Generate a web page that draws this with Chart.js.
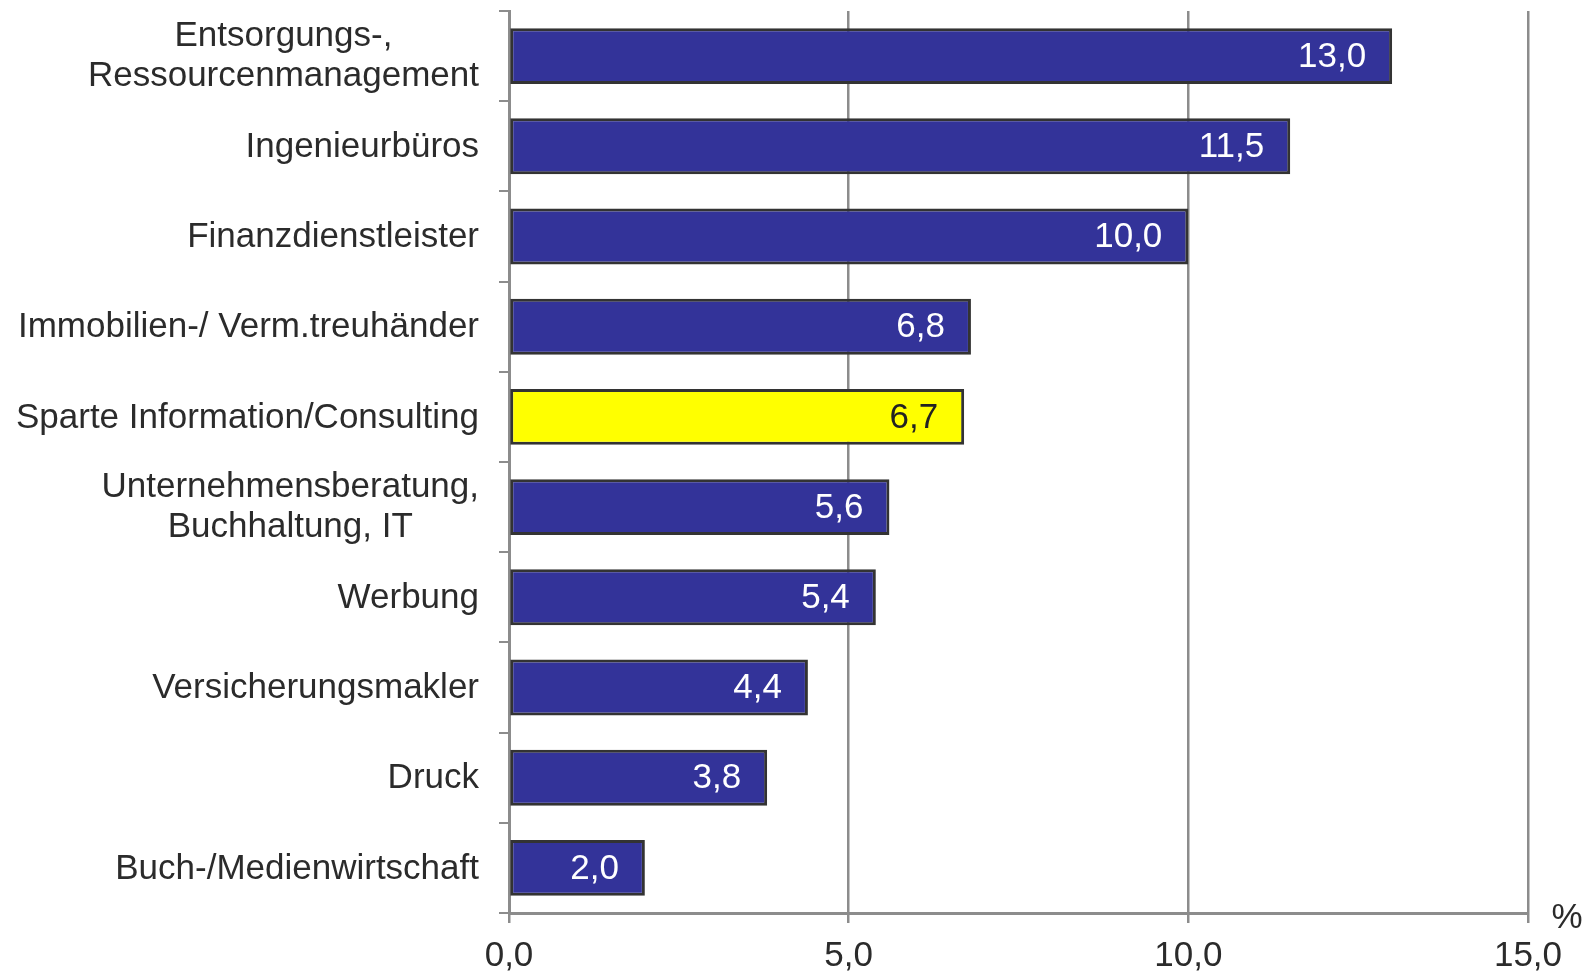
<!DOCTYPE html>
<html>
<head>
<meta charset="utf-8">
<script src="https://cdn.jsdelivr.net/npm/chart.js@4.4.1/dist/chart.umd.min.js"></script>
<style>
  html, body { margin: 0; padding: 0; background: #fff; }
  #wrap { width: 1592px; height: 976px; position: relative; }
</style>
</head>
<body>
<div id="wrap"><canvas id="chart"></canvas></div>
<script>
// --- data ---
const categories = [
  ['Entsorgungs-,', 'Ressourcenmanagement'],
  'Ingenieurbüros',
  'Finanzdienstleister',
  'Immobilien-/ Verm.treuhänder',
  'Sparte Information/Consulting',
  ['Unternehmensberatung,', 'Buchhaltung, IT'],
  'Werbung',
  'Versicherungsmakler',
  'Druck',
  'Buch-/Medienwirtschaft'
];
const values = [13.0, 11.5, 10.0, 6.8, 6.7, 5.6, 5.4, 4.4, 3.8, 2.0];
const highlight = 'Sparte Information/Consulting';
const xTicks = [0, 5, 10, 15];
const unitLabel = '%';

const FONT = '"Liberation Sans", Arial, sans-serif';
const BLUE = '#333399';
const YELLOW = '#ffff00';
const AXIS = '#8c8c8c';
const TEXT = '#2b2b2b';

const fmt = v => v.toFixed(1).replace('.', ',');

// category labels: each right aligned, lines of a multi-line label centred on each other
const catLabels = {
  id: 'catLabels',
  afterDraw(chart) {
    const y = chart.scales.y;
    const ctx = chart.ctx;
    const right = 479;
    ctx.save();
    ctx.font = '35px ' + FONT;
    ctx.fillStyle = TEXT;
    ctx.textBaseline = 'middle';
    categories.forEach((lab, i) => {
      const c = y.getPixelForTick(i);
      if (Array.isArray(lab)) {
        const w = Math.max(...lab.map(s => ctx.measureText(s).width));
        ctx.textAlign = 'center';
        lab.forEach((s, j) => ctx.fillText(s, right - w / 2, c - 20 + j * 40));
      } else {
        ctx.textAlign = 'right';
        ctx.fillText(lab, right, c + 1);
      }
    });
    ctx.restore();
  }
};

// value labels inside bar ends
const valueLabels = {
  id: 'valueLabels',
  afterDatasetsDraw(chart) {
    const ctx = chart.ctx;
    const meta = chart.getDatasetMeta(0);
    ctx.save();
    ctx.font = '35px ' + FONT;
    ctx.textAlign = 'right';
    ctx.textBaseline = 'middle';
    meta.data.forEach((bar, i) => {
      ctx.fillStyle = categories[i] === highlight ? '#222' : '#fff';
      ctx.fillText(fmt(values[i]), bar.x - 26, bar.y + 1);
    });
    ctx.restore();
  }
};

// unit at the end of x axis
const unitPlugin = {
  id: 'unitPlugin',
  afterDraw(chart) {
    const x = chart.scales.x;
    const ctx = chart.ctx;
    ctx.save();
    ctx.font = '35px ' + FONT;
    ctx.fillStyle = TEXT;
    ctx.textAlign = 'center';
    ctx.textBaseline = 'middle';
    ctx.fillText(unitLabel, x.right + 39, x.top + 5);
    ctx.restore();
  }
};

const ctx = document.getElementById('chart').getContext('2d');
new Chart(ctx, {
  type: 'bar',
  data: {
    labels: categories,
    datasets: [{
      data: values,
      backgroundColor: categories.map(c => c === highlight ? YELLOW : BLUE),
      borderColor: '#333333',
      borderWidth: 3,
      borderSkipped: false,
      barPercentage: 0.62,
      categoryPercentage: 1.0
    }]
  },
  options: {
    indexAxis: 'y',
    responsive: true,
    maintainAspectRatio: false,
    animation: false,
    layout: { padding: { top: 11, right: 64, bottom: 0, left: 0 } },
    plugins: { legend: { display: false }, tooltip: { enabled: false } },
    scales: {
      y: {
        ticks: { display: false },
        grid: { drawOnChartArea: false, color: AXIS, lineWidth: 2, tickLength: 10, offset: true },
        border: { color: AXIS, width: 3 },
        afterFit: s => { s.width = 509; }
      },
      x: {
        min: 0, max: 15,
        afterBuildTicks: s => { s.ticks = xTicks.map(v => ({ value: v })); },
        ticks: {
          color: TEXT, font: { family: FONT, size: 35 }, padding: 12,
          callback: v => fmt(v), maxRotation: 0
        },
        grid: { color: AXIS, lineWidth: 2.5, tickLength: 10 },
        border: { color: AXIS, width: 3 },
        afterFit: s => { s.height = 63; }
      }
    }
  },
  plugins: [catLabels, valueLabels, unitPlugin]
});
</script>
</body>
</html>
